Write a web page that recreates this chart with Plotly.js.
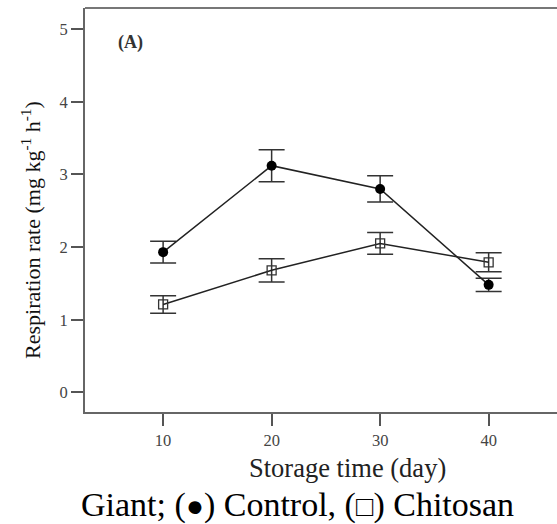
<!DOCTYPE html>
<html>
<head>
<meta charset="utf-8">
<script src="https://cdn.plot.ly/plotly-3.0.1.min.js"></script>
<style>html,body{margin:0;padding:0;background:#fff;overflow:hidden;}</style>
</head>
<body>
<div id="chart" style="width:557px;height:524px;"></div>
<script>
const days = [10, 20, 30, 40];
const controlRate = [1.93, 3.12, 2.80, 1.48];
const controlErr = [0.15, 0.22, 0.18, 0.09];
const chitosanRate = [1.21, 1.68, 2.05, 1.79];
const chitosanErr = [0.12, 0.16, 0.15, 0.13];
const xTicks = [10, 20, 30, 40];
const yTicks = [0, 1, 2, 3, 4, 5];

const serif = "'Liberation Serif', 'Times New Roman', serif";

const traces = [
  {
    x: days, y: controlRate, type: 'scatter', mode: 'lines+markers', name: 'Control',
    line: {color: '#222', width: 1.5},
    marker: {symbol: 'circle', size: 10, color: '#000'},
    error_y: {type: 'data', array: controlErr, visible: true, color: '#333', thickness: 1.5, width: 13}
  },
  {
    x: days, y: chitosanRate, type: 'scatter', mode: 'lines+markers', name: 'Chitosan',
    line: {color: '#222', width: 1.5},
    marker: {symbol: 'square-open', size: 9, color: '#333', line: {width: 1.3}},
    error_y: {type: 'data', array: chitosanErr, visible: true, color: '#333', thickness: 1.5, width: 13}
  }
];

const W = 472, H = 405, L = 85, B = 412.5;
const px = v => (v - L) / W;
const py = v => (B - v) / H;

const layout = {
  width: 557, height: 524,
  margin: {l: 85, r: 0, t: 7.5, b: 111.5},
  paper_bgcolor: '#fff', plot_bgcolor: '#fff',
  showlegend: false,
  font: {family: serif, color: '#444', size: 16},
  xaxis: {
    range: [2.8, 46.3], tickvals: xTicks, ticks: 'outside', ticklen: 12, tickwidth: 2,
    tickcolor: '#555', showline: true, linecolor: '#666', linewidth: 2,
    showgrid: false, zeroline: false, tickfont: {family: serif, size: 16.5, color: '#444'}
  },
  yaxis: {
    range: [-0.27, 5.29], tickvals: yTicks, ticks: 'outside', ticklen: 12, tickwidth: 2,
    tickcolor: '#555', showline: true, linecolor: '#666', linewidth: 2,
    showgrid: false, zeroline: false, tickfont: {family: serif, size: 16.5, color: '#444'}
  },
  shapes: [
    {type: 'line', xref: 'paper', yref: 'paper', x0: 0, x1: 1, y0: 1, y1: 1, line: {color: '#777', width: 2}}
  ],
  annotations: [
    {text: 'Respiration rate (mg kg<sup>-1</sup> h<sup>-1</sup>)', xref: 'paper', yref: 'paper', x: px(31), y: py(230),
     textangle: -90, showarrow: false, font: {family: serif, size: 22, color: '#111'}, xanchor: 'center', yanchor: 'middle'},
    {text: '<b>(A)</b>', xref: 'paper', yref: 'paper', x: px(130), y: py(42), showarrow: false,
     font: {family: serif, size: 18, color: '#333'}, xanchor: 'center', yanchor: 'middle'},
    {text: 'Storage time (day)', xref: 'paper', yref: 'paper', x: px(347), y: py(469), showarrow: false,
     font: {family: serif, size: 26.5, color: '#222'}, xanchor: 'center', yanchor: 'middle'},
    {text: 'Giant; (<span style="font-size:88%">\u25CF</span>) Control, (<span style="font-size:85%">\u25A1</span>) Chitosan',
     xref: 'paper', yref: 'paper', x: px(297), y: py(506), showarrow: false,
     font: {family: serif, size: 34, color: '#000'}, xanchor: 'center', yanchor: 'middle'}
  ]
};

Plotly.newPlot('chart', traces, layout, {displayModeBar: false, staticPlot: true});
</script>
</body>
</html>
